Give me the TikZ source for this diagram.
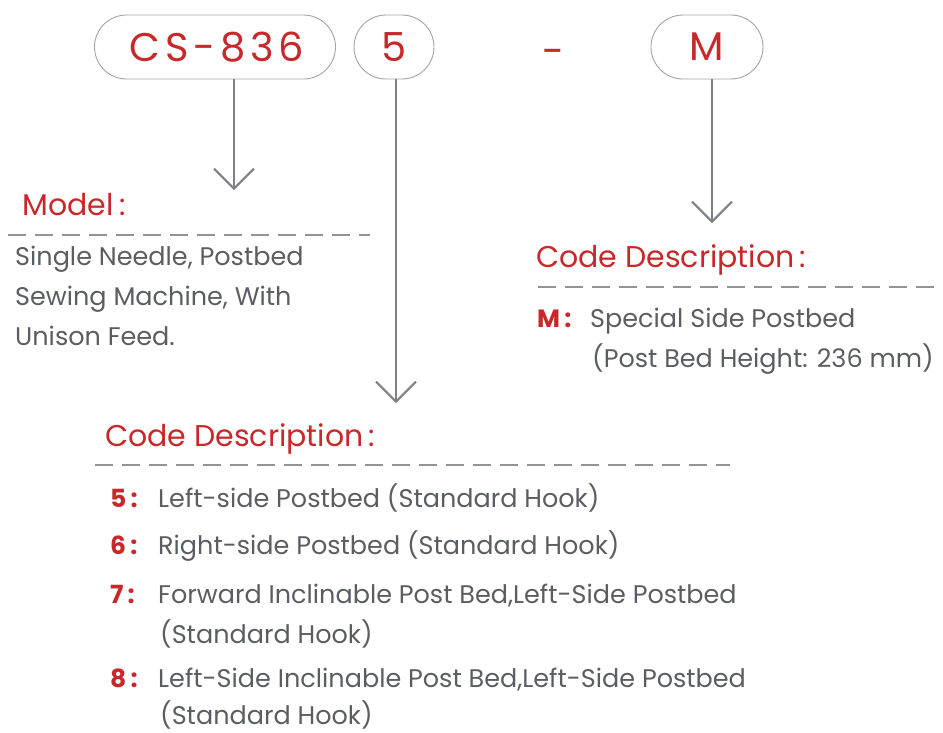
\documentclass[tikz,border=0pt]{standalone}
\usepackage{fontspec}
\setmainfont{Poppins}
\usepackage{tikz}
\usetikzlibrary{arrows.meta,positioning}
\definecolor{codered}{HTML}{C8282A}
\definecolor{textgray}{HTML}{5A5E63}
\definecolor{linegray}{HTML}{7D8085}
\definecolor{boxgray}{HTML}{A0A3A6}

\begin{document}
\begin{tikzpicture}[x=1pt, y=-1pt,
  codebox/.style={draw=boxgray, line width=0.9pt, rounded corners=32pt,
    minimum height=64pt, text=codered, inner sep=0pt,
    font=\fontsize{40}{40}\selectfont},
  head/.style={anchor=base west, inner sep=0pt, text=codered,
    font=\fontsize{30}{30}\selectfont},
  body/.style={anchor=base west, inner sep=0pt, text=textgray, align=left,
    font=\fontsize{25.5}{40}\selectfont},
  num/.style={anchor=base west, inner sep=0pt, text=codered,
    font=\fontsize{25}{25}\selectfont\bfseries},
  rule/.style={linegray!85, line width=2.4pt, dash pattern=on 18pt off 9pt},
  pointer/.style={linegray, line width=2pt,
    -{Straight Barb[length=20pt, width=40pt]}},
]
  \useasboundingbox (0,0) rectangle (943,732);

  % Model code boxes
  \node[codebox, minimum width=241pt] (series) at (215,47)
    {\hspace*{4pt}\addfontfeatures{LetterSpace=12}CS-836};
  \node[codebox, minimum width=80pt] (five) at (394,47) {5};
  \node[text=codered, font=\fontsize{40}{40}\selectfont] (sep) at (554,57) {-};
  \node[codebox, minimum width=112pt] (mark) at (707,47) {M};

  % Arrow ends
  \coordinate (modeltip) at (234,190);
  \coordinate (fivetip) at (396,403);
  \coordinate (marktip) at (712,223);

  % Arrows
  \draw[pointer] (series.south -| modeltip) -- (modeltip);
  \draw[pointer] (five.south -| fivetip) -- (fivetip);
  \draw[pointer] (mark.south -| marktip) -- (marktip);

  % Model block (left)
  \node[head] (modelhead) at (22,215) {Model\hspace{6pt}:};
  \draw[rule] (8,235) -- (370,235);
  \node[body, anchor=north west] (modeltext) at (15,246)
    {Single Needle, Postbed\\Sewing Machine, With\\Unison Feed.};

  % Code description (right)
  \node[head] (markhead) at (536,267) {Code Description\,:};
  \draw[rule] (538,287) -- (943,287);
  \node[num] (mnum) at (537,327) {M\,:};
  \node[body] (mtext) at (590,327) {Special Side Postbed};
  \node[body] (mtext2) at (592,367) {(Post Bed Height: 236 mm)};

  % Code description (bottom)
  \node[head] (fivehead) at (105,446) {Code Description\,:};
  \draw[rule] (95,465) -- (730,465);
  \node[num] (n5) at (110,507) {5\,:};
  \node[body] (t5) at (158,507) {Left-side Postbed (Standard Hook)};
  \node[num] (n6) at (110,554) {6\,:};
  \node[body] (t6) at (158,554) {Right-side Postbed (Standard Hook)};
  \node[num] (n7) at (110,603) {7\,:};
  \node[body] (t7) at (158,603) {Forward Inclinable Post Bed,Left-Side Postbed};
  \node[body] (t7b) at (160,643) {(Standard Hook)};
  \node[num] (n8) at (110,687) {8\,:};
  \node[body] (t8) at (158,687) {Left-Side Inclinable Post Bed,Left-Side Postbed};
  \node[body] (t8b) at (160,724) {(Standard Hook)};
\end{tikzpicture}
\end{document}
